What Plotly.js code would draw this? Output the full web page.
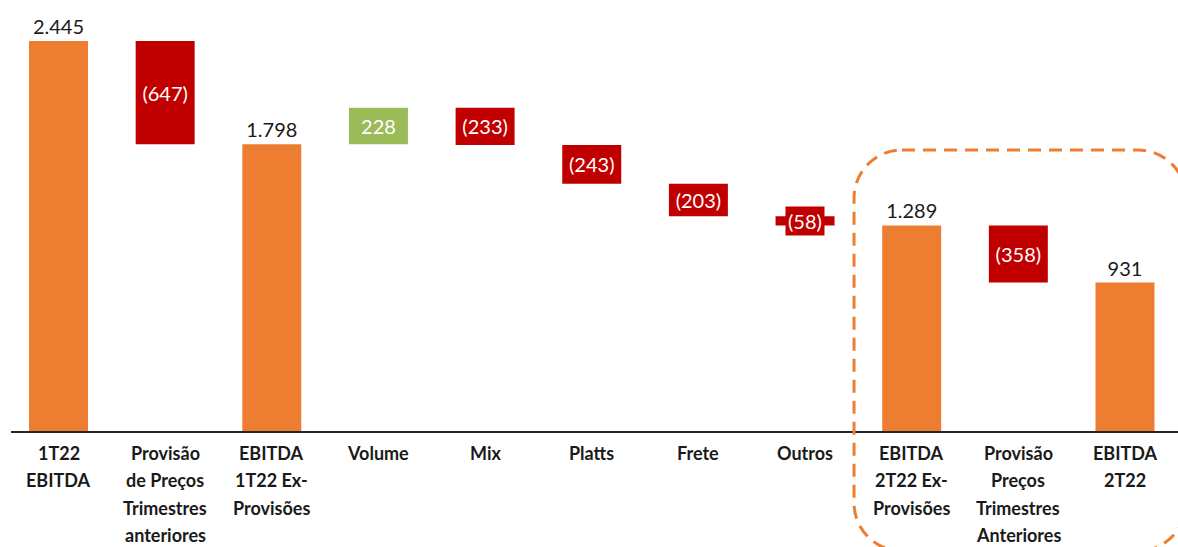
<!DOCTYPE html>
<html>
<head>
<meta charset="utf-8">
<script src="https://cdn.plot.ly/plotly-3.0.1.min.js"></script>
<style>html,body{margin:0;padding:0;background:#fff;}#chart{width:1178px;height:547px;}</style>
</head>
<body>
<div id="chart"></div>
<script>
// ---- data ----
var categories = [
  '1T22<br>EBITDA',
  'Provisão<br>de Preços<br>Trimestres<br>anteriores',
  'EBITDA<br>1T22 Ex-<br>Provisões',
  'Volume',
  'Mix',
  'Platts',
  'Frete',
  'Outros',
  'EBITDA<br>2T22 Ex-<br>Provisões',
  'Provisão<br>Preços<br>Trimestres<br>Anteriores',
  'EBITDA<br>2T22'
];
var measures = ['absolute','relative','total','relative','relative','relative','relative','relative','total','relative','total'];
var values = [2445, -647, 1798, 228, -233, -243, -203, -58, 1289, -358, 931];

// ---- styling ----
var ORANGE = '#ED7D31', RED = '#C00000', GREEN = '#9BBB59';
var PLOT_H = 431, LEFT = 11, PLOT_W = 1167;

function fmtThousands(v) {
  var s = String(Math.abs(v));
  return s.replace(/\B(?=(\d{3})+(?!\d))/g, '.');
}
var texts = values.map(function (v, i) {
  if (measures[i] === 'relative') return v < 0 ? '(' + fmtThousands(v) + ')' : fmtThousands(v);
  return fmtThousands(v);
});
// small bar: label drawn as boxed annotation
var smallIdx = categories.indexOf('Outros');
var textpos = measures.map(function (m, i) {
  if (i === smallIdx) return 'none';
  return m === 'relative' ? 'inside' : 'outside';
});

var trace = {
  type: 'waterfall',
  x: categories,
  y: values,
  measure: measures,
  text: texts,
  textposition: textpos,
  insidetextanchor: 'middle',
  constraintext: 'none',
  cliponaxis: false,
  insidetextfont: {family: 'Lato, sans-serif', size: 20, color: '#ffffff'},
  outsidetextfont: {family: 'Lato, sans-serif', size: 20, color: '#1a1a1a'},
  width: 0.553,
  connector: {visible: false},
  increasing: {marker: {color: GREEN}},
  decreasing: {marker: {color: RED}},
  totals: {marker: {color: ORANGE}},
  hoverinfo: 'skip'
};

// running level for the small-bar label
var level = 0, mid = 0;
for (var i = 0; i < values.length; i++) {
  if (measures[i] === 'absolute') { level = values[i]; }
  else if (measures[i] === 'relative') {
    if (i === smallIdx) mid = level + values[i] / 2;
    level += values[i];
  }
}

var annotations = [];
annotations.push({
  x: categories[smallIdx], y: mid, xref: 'x', yref: 'y',
  text: texts[smallIdx], showarrow: false,
  font: {family: 'Lato, sans-serif', size: 20, color: '#ffffff'},
  bgcolor: RED, borderpad: 2, xanchor: 'center', yanchor: 'middle'
});

// category labels (multi-line, bold)
var firstLine = 21.5, linePitch = 27.5;
categories.forEach(function (c) {
  c.split('<br>').forEach(function (ln, j) {
    annotations.push({
      x: c, xref: 'x', yref: 'paper',
      y: -(firstLine + j * linePitch) / PLOT_H,
      text: '<b>' + ln + '</b>', showarrow: false, borderpad: 0,
      xanchor: 'center', yanchor: 'middle',
      font: {family: 'Lato, sans-serif', size: 18, color: '#1a1a1a'}
    });
  });
});

// dashed rounded rectangle (pixel geometry -> paper)
function px2x(p) { return (p - LEFT) / PLOT_W; }
function px2y(p) { return (PLOT_H - p) / PLOT_H; }
var L = 854, R = 1186, T = 150, B = 551, rad = 48, k = 0.5523;
function P(x, y) { return px2x(x).toFixed(4) + ',' + px2y(y).toFixed(4); }
var path = 'M' + P(L + rad, T) +
  ' L' + P(R - rad, T) +
  ' C' + P(R - rad + k * rad, T) + ' ' + P(R, T + rad - k * rad) + ' ' + P(R, T + rad) +
  ' L' + P(R, B - rad) +
  ' C' + P(R, B - rad + k * rad) + ' ' + P(R - rad + k * rad, B) + ' ' + P(R - rad, B) +
  ' L' + P(L + rad, B) +
  ' C' + P(L + rad - k * rad, B) + ' ' + P(L, B - rad + k * rad) + ' ' + P(L, B - rad) +
  ' L' + P(L, T + rad) +
  ' C' + P(L, T + rad - k * rad) + ' ' + P(L + rad - k * rad, T) + ' ' + P(L + rad, T) + ' Z';

var layout = {
  width: 1178, height: 547,
  margin: {l: LEFT, r: 0, t: 0, b: 547 - PLOT_H, pad: 0},
  paper_bgcolor: '#ffffff', plot_bgcolor: '#ffffff',
  showlegend: false,
  font: {family: 'Lato, sans-serif', color: '#1a1a1a'},
  xaxis: {
    type: 'category',
    range: [-0.4454, 10.497],
    showline: true, linecolor: '#262626', linewidth: 1.5,
    showticklabels: false, ticks: '', showgrid: false, zeroline: false, fixedrange: true
  },
  yaxis: {
    range: [0, PLOT_H / 0.1595],
    visible: false, showgrid: false, zeroline: false, fixedrange: true
  },
  annotations: annotations,
  shapes: [{
    type: 'path', xref: 'paper', yref: 'paper', path: path,
    line: {color: ORANGE, width: 3, dash: '13px,8px'}, fillcolor: 'rgba(0,0,0,0)', layer: 'above'
  }]
};

Plotly.newPlot('chart', [trace], layout, {displayModeBar: false, staticPlot: true});
</script>
</body>
</html>
